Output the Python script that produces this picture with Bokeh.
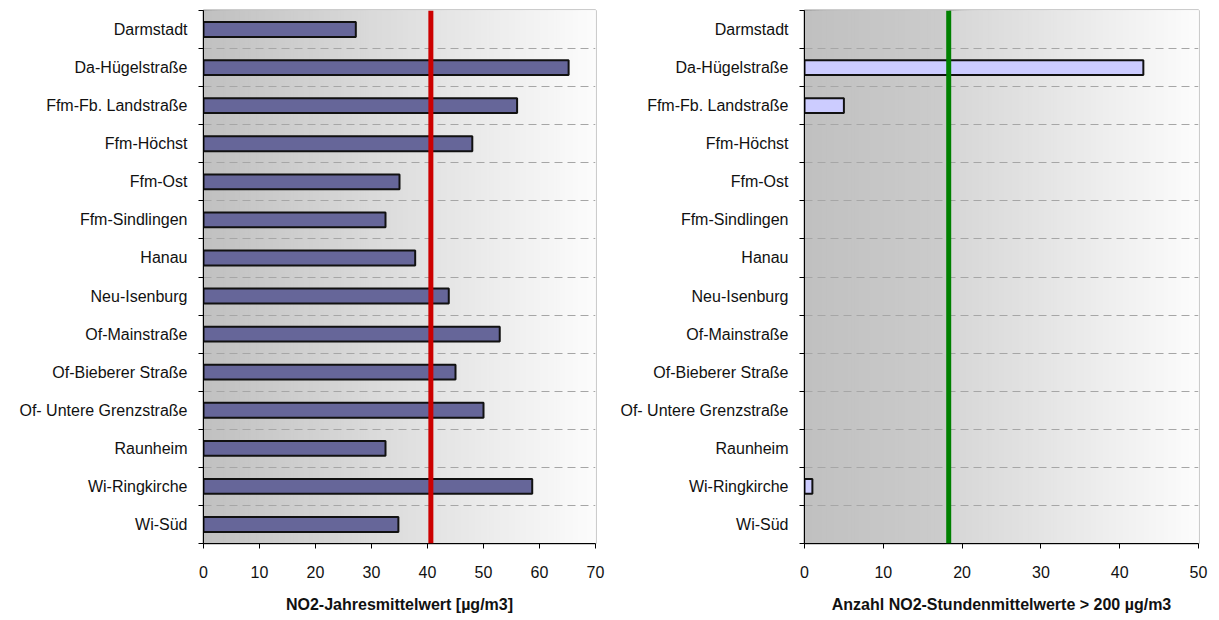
from bokeh.plotting import figure
from bokeh.layouts import row
from bokeh.models import Range1d, FixedTicker, Span, ColumnDataSource
from bokeh.embed import file_html
from bokeh.resources import INLINE

# ---------------- data ----------------
stations = ["Darmstadt", "Da-Hügelstraße", "Ffm-Fb. Landstraße", "Ffm-Höchst", "Ffm-Ost",
            "Ffm-Sindlingen", "Hanau", "Neu-Isenburg", "Of-Mainstraße", "Of-Bieberer Straße",
            "Of- Untere Grenzstraße", "Raunheim", "Wi-Ringkirche", "Wi-Süd"]
no2_annual = [27.2, 65.2, 56.0, 48.0, 35.0, 32.5, 37.8, 43.8, 52.9, 45.0, 50.0, 32.5, 58.7, 34.8]
hours_over_200 = [0, 43, 5, 0, 0, 0, 0, 0, 0, 0, 0, 0, 1, 0]
annual_limit_line = 40.6
hourly_limit_line = 18.3
left_ticks = [0, 10, 20, 30, 40, 50, 60, 70]
right_ticks = [0, 10, 20, 30, 40, 50]
left_title = "NO2-Jahresmittelwert [µg/m3]"
right_title = "Anzahl NO2-Stundenmittelwerte > 200 µg/m3"

FONT = "Liberation Sans"
N = len(stations)
centers = [i + 0.5 for i in range(N)]
bounds = list(range(N + 1))


def gray_hex(v):
    v = int(round(v))
    return "#%02x%02x%02x" % (v, v, v)


def add_gradient(p, x0, x1, g0, g1, steps):
    lefts, rights, cols = [], [], []
    for k in range(steps):
        t = k / steps
        lefts.append(x0 + (x1 - x0) * t)
        rights.append(x1)
        cols.append(gray_hex(g0 + (g1 - g0) * (k + 0.5) / steps))
    p.quad(left=lefts, right=rights, top=[0] * steps, bottom=[N] * steps,
           fill_color=cols, line_color=None, level="image")


def make_fig(width, border_left, border_right, xmax, ticks, title):
    p = figure(width=width, height=620, output_backend="svg", toolbar_location=None,
               x_range=Range1d(0, xmax), y_range=Range1d(N, 0),
               min_border_left=border_left, min_border_right=border_right,
               min_border_top=10, min_border_bottom=77)
    p.background_fill_color = "white"
    p.border_fill_color = "white"
    p.outline_line_color = "#999999"
    p.outline_line_width = 2

    # y axis: labels at category centres, ticks at boundaries
    p.yaxis.ticker = FixedTicker(ticks=centers, minor_ticks=bounds)
    p.yaxis.major_label_overrides = {c: s for c, s in zip(centers, stations)}
    p.yaxis.major_tick_out = 0
    p.yaxis.major_tick_in = 0
    p.yaxis.minor_tick_out = 5
    p.yaxis.minor_tick_in = 0
    p.yaxis.minor_tick_line_color = "black"
    p.yaxis.axis_line_color = "black"
    p.yaxis.major_label_text_font = FONT
    p.yaxis.major_label_text_font_size = "16px"
    p.yaxis.major_label_text_color = "#111111"
    p.yaxis.major_label_standoff = 11

    # x axis
    p.xaxis.ticker = FixedTicker(ticks=ticks)
    p.xaxis.major_tick_out = 5
    p.xaxis.major_tick_in = 0
    p.xaxis.minor_tick_line_color = None
    p.xaxis.axis_line_color = "black"
    p.xaxis.major_label_text_font = FONT
    p.xaxis.major_label_text_font_size = "16px"
    p.xaxis.major_label_text_color = "#111111"
    p.xaxis.major_label_standoff = 17
    p.xaxis.axis_label = title
    p.xaxis.axis_label_text_font = FONT
    p.xaxis.axis_label_text_font_size = "16px"
    p.xaxis.axis_label_text_font_style = "bold"
    p.xaxis.axis_label_text_color = "#111111"
    p.xaxis.axis_label_standoff = 15

    # grids
    p.xgrid.grid_line_color = None
    p.ygrid.grid_line_color = None
    p.ygrid.minor_grid_line_color = "#a6a6a6"
    p.ygrid.minor_grid_line_dash = "8 5"
    p.ygrid.minor_grid_line_width = 1
    return p


# ---------------- left chart ----------------
p1 = make_fig(608, 203, 13, 70, left_ticks, left_title)
add_gradient(p1, 0, 70, 192, 252, 140)
src1 = ColumnDataSource(dict(y=centers, v=no2_annual))
p1.hbar(y="y", left=0, right="v", height=0.39, source=src1,
        fill_color="#666699", line_color="#111111", line_width=2)
p1.add_layout(Span(location=annual_limit_line, dimension="height",
                   line_color="#cc0000", line_width=5))

# ---------------- right chart ----------------
p2 = make_fig(611, 196, 21, 50, right_ticks, right_title)
add_gradient(p2, 0, hourly_limit_line, 192, 204, 40)
add_gradient(p2, hourly_limit_line, 50, 214, 252, 100)
nz = [(c, v) for c, v in zip(centers, hours_over_200) if v > 0]
src2 = ColumnDataSource(dict(y=[c for c, v in nz], v=[v for c, v in nz]))
p2.hbar(y="y", left=0, right="v", height=0.39, source=src2,
        fill_color="#ccccff", line_color="#111111", line_width=2)
p2.add_layout(Span(location=hourly_limit_line, dimension="height",
                   line_color="#008000", line_width=5))

layout = row(p1, p2)
open("out.html", "w").write(file_html(layout, INLINE))
